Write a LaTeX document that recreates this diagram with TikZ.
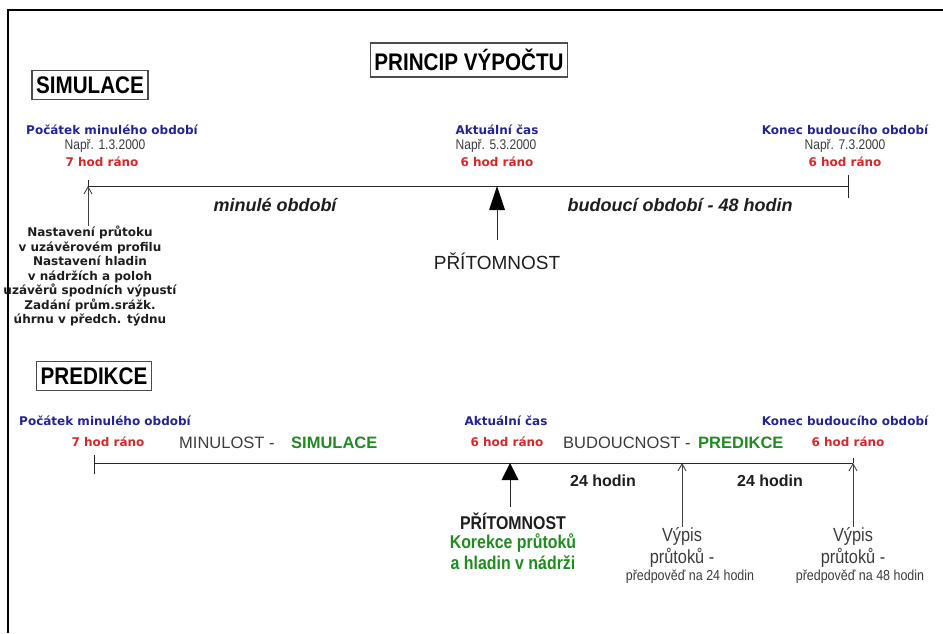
\documentclass[tikz,border=0pt]{standalone}
\usepackage{fontspec}
\setmainfont{Liberation Sans}
\newfontfamily\tahfont{DejaVu Sans}
\newfontfamily\narrowfont[FakeStretch=0.86]{Liberation Sans}
\usetikzlibrary{arrows.meta}
\definecolor{lblblue}{RGB}{35,35,150}
\definecolor{lblred}{RGB}{215,40,40}
\definecolor{lblgreen}{RGB}{30,140,30}
\definecolor{lblgray}{RGB}{60,60,60}
\definecolor{txtdark}{RGB}{30,30,30}
\tikzset{
  titlebox/.style={draw=black!70, line width=1.3pt, inner xsep=4pt, inner ysep=6pt,
    font=\narrowfont\bfseries\fontsize{24}{24}\selectfont},
  bluelbl/.style={text=lblblue, font=\tahfont\bfseries\fontsize{12}{13}\selectfont, inner sep=0pt},
  redlbl/.style={text=lblred, font=\tahfont\bfseries\fontsize{12}{13}\selectfont, inner sep=0pt},
  datelbl/.style={text=lblgray, font=\narrowfont\fontsize{14}{15}\selectfont, inner sep=0pt},
  notelbl/.style={text=txtdark, align=center, font=\tahfont\bfseries\fontsize{12}{14.5}\selectfont, inner sep=0pt},
  periodlbl/.style={text=txtdark, font=\bfseries\itshape\fontsize{18}{20}\selectfont, inner sep=0pt},
  phaselbl/.style={text=lblgray, font=\fontsize{16.5}{18}\selectfont, inner sep=0pt, anchor=west},
  phasegreen/.style={text=lblgreen, font=\bfseries\fontsize{16.5}{18}\selectfont, inner sep=0pt, anchor=west},
  hourlbl/.style={text=txtdark, font=\bfseries\fontsize{16}{18}\selectfont, inner sep=0pt},
  outlbl/.style={text=lblgray, align=center, font=\narrowfont\fontsize{19}{22}\selectfont, inner sep=0pt},
  outsmall/.style={text=lblgray, font=\narrowfont\fontsize{14.5}{16}\selectfont, inner sep=0pt},
  axis/.style={line width=0.9pt, draw=black!85},
  openarrow/.style={line width=0.9pt, draw=black!75, -{Straight Barb[length=7pt,width=8pt,line width=0.9pt]}},
  pointer/.style={line width=0.9pt, draw=black!85}
}
\begin{document}
\begin{tikzpicture}[x=1pt, y=-1pt]
\useasboundingbox (0,0) rectangle (943,633);
% frame
\draw[line width=2pt] (8,633) -- (8,10) -- (943,10);

% titles
\node[titlebox] (princip) at (469,60) {PRINCIP VÝPOČTU};
\node[titlebox] (simbox) at (90,85) {SIMULACE};
\node[titlebox] (predbox) at (94,376) {PREDIKCE};

% ---------- simulation timeline ----------
\coordinate (s0) at (88,186);
\coordinate (s1) at (497,186);
\coordinate (s2) at (848,186);
\coordinate (s0top) at (88,180);
\coordinate (s0low) at (88,226);
\coordinate (s1low) at (497,240);
\coordinate (s2top) at (848,175);
\coordinate (s2low) at (848,198);
\draw[axis] (s0) -- (s2);
\draw[axis] (s0top) -- (s0);
\draw[axis] (s2top) -- (s2low);
\draw[openarrow] (s0low) -- (s0);
\fill[black] (s1) -- ++(-8,24) -- ++(16,0) -- cycle;
\draw[pointer] ([yshift=-24pt]s1) -- (s1low);

\node[bluelbl] (sa1) at (112,130) {Počátek minulého období};
\node[datelbl] (sa2) at (105,146) {Např. 1.3.2000};
\node[redlbl]  (sa3) at (102,162) {7 hod ráno};

\node[bluelbl] (sb1) at (497,130) {Aktuální čas};
\node[datelbl] (sb2) at (496,146) {Např. 5.3.2000};
\node[redlbl]  (sb3) at (497,162) {6 hod ráno};

\node[bluelbl] (sc1) at (845,130) {Konec budoucího období};
\node[datelbl] (sc2) at (845,146) {Např. 7.3.2000};
\node[redlbl]  (sc3) at (845,162) {6 hod ráno};

\node[periodlbl] (past) at (275,205) {minulé období};
\node[periodlbl] (future) at (680,205) {budoucí období - 48 hodin};
\node[text=txtdark, font=\fontsize{19}{21}\selectfont, inner sep=0pt] (now1) at (497,261) {PŘÍTOMNOST};

\node[notelbl, anchor=north] (init) at (90,226) {Nastavení průtoku\\v uzávěrovém profilu\\Nastavení hladin\\v nádržích a poloh\\uzávěrů spodních výpustí\\Zadání prům.srážk.\\úhrnu v předch. týdnu};

% ---------- prediction timeline ----------
\coordinate (p0) at (94,463);
\coordinate (p1) at (510,463);
\coordinate (p2) at (682,463);
\coordinate (p3) at (853,463);
\coordinate (p0top) at (94,455);
\coordinate (p0low) at (94,474);
\coordinate (p1low) at (510,507);
\coordinate (p2low) at (682,527);
\coordinate (p3top) at (853,458);
\coordinate (p3low) at (853,527);
\draw[axis] (p0) -- (p3);
\draw[axis] (p0top) -- (p0low);
\draw[axis] (p3top) -- (p3);
\fill[black] (p1) -- ++(-8.5,17) -- ++(17,0) -- cycle;
\draw[pointer] ([yshift=-17pt]p1) -- (p1low);
\draw[openarrow] (p2low) -- (p2);
\draw[openarrow] (p3low) -- (p3);

\node[bluelbl] (pa1) at (105,421) {Počátek minulého období};
\node[redlbl]  (pa2) at (108,442) {7 hod ráno};
\node[phaselbl] (pastlbl) at (179,443) {MINULOST -};
\node[phasegreen] (simlbl) at (291,443) {SIMULACE};

\node[bluelbl] (pb1) at (506,421) {Aktuální čas};
\node[redlbl]  (pb2) at (507,442) {6 hod ráno};
\node[phaselbl] (futlbl) at (563,443) {BUDOUCNOST -};
\node[phasegreen] (predlbl) at (698,443) {PREDIKCE};

\node[bluelbl] (pc1) at (845,421) {Konec budoucího období};
\node[redlbl]  (pc2) at (848,442) {6 hod ráno};

\node[hourlbl] (h1) at (603,481) {24 hodin};
\node[hourlbl] (h2) at (770,481) {24 hodin};

\node[text=txtdark, font=\narrowfont\bfseries\fontsize{18.5}{19}\selectfont, inner sep=0pt] (now2) at (513,521) {PŘÍTOMNOST};
\node[text=lblgreen, align=center, font=\narrowfont\bfseries\fontsize{18.5}{21.5}\selectfont, inner sep=0pt, anchor=north] (korekce) at (513,533) {Korekce průtoků\\a hladin v nádrži};

\node[outlbl, anchor=north] (out1) at (682,527) {Výpis\\průtoků -};
\node[outsmall] (out1b) at (690,577) {předpověď na 24 hodin};
\node[outlbl, anchor=north] (out2) at (853,527) {Výpis\\průtoků -};
\node[outsmall] (out2b) at (860,577) {předpověď na 48 hodin};
\end{tikzpicture}
\end{document}
